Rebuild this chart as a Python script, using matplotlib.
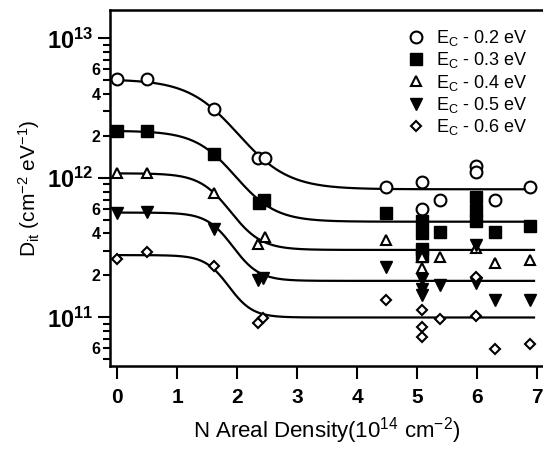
import numpy as np
import matplotlib
matplotlib.use("Agg")
import matplotlib.pyplot as plt
from matplotlib.ticker import FixedLocator, FixedFormatter

plt.rcParams['font.family'] = ['Liberation Sans', 'DejaVu Sans']
plt.rcParams['mathtext.fontset'] = 'custom'
plt.rcParams['mathtext.rm'] = 'Liberation Sans'
plt.rcParams['mathtext.it'] = 'Liberation Sans:italic'
plt.rcParams['mathtext.bf'] = 'Liberation Sans:bold'

# ---- data ----
labels = ['0.2', '0.3', '0.4', '0.5', '0.6']

x_02 = [0.0, 0.49, 1.62, 2.35, 2.46, 4.49, 5.09, 5.09, 5.39, 5.98, 5.98, 6.3, 6.88]
y_02 = [5.1e12, 5.1e12, 3.1e12, 1.4e12, 1.4e12, 8.6e11, 9.4e11, 6.0e11, 6.95e11, 1.21e12, 1.11e12, 6.9e11, 8.6e11]

x_03 = [0.0, 0.49, 1.62, 2.36, 2.44, 4.49, 5.09, 5.09, 5.09, 5.09, 5.39, 5.98, 5.98, 5.98, 6.3, 6.88]
y_03 = [2.18e12, 2.18e12, 1.48e12, 6.6e11, 7.0e11, 5.58e11, 4.9e11, 4.0e11, 3.1e11, 2.75e11, 4.12e11, 7.3e11, 5.9e11, 4.9e11, 4.12e11, 4.53e11]

x_04 = [0.0, 0.49, 1.62, 2.35, 2.46, 4.49, 5.09, 5.09, 5.39, 5.98, 6.3, 6.88]
y_04 = [1.08e12, 1.08e12, 7.76e11, 3.35e11, 3.8e11, 3.6e11, 2.73e11, 2.25e11, 2.73e11, 3.15e11, 2.45e11, 2.58e11]

x_05 = [0.0, 0.49, 1.62, 2.35, 2.43, 4.49, 5.09, 5.09, 5.09, 5.39, 5.98, 5.98, 6.3, 6.88]
y_05 = [5.58e11, 5.7e11, 4.29e11, 1.86e11, 1.93e11, 2.29e11, 1.9e11, 1.6e11, 1.45e11, 1.71e11, 3.3e11, 1.76e11, 1.33e11, 1.33e11]

x_06 = [0.0, 0.49, 1.62, 2.35, 2.43, 4.49, 5.09, 5.09, 5.09, 5.39, 5.98, 5.98, 6.3, 6.88]
y_06 = [2.63e11, 2.93e11, 2.34e11, 9.1e10, 9.87e10, 1.33e11, 1.13e11, 8.6e10, 7.3e10, 9.7e10, 1.96e11, 1.03e11, 5.95e10, 6.5e10]

# Boltzmann fit parameters (in log10 space): plateau, asymptote, centre, width
fit_top = [5.1e12, 2.18e12, 1.08e12, 5.65e11, 2.8e11]
fit_bottom = [8.3e11, 4.86e11, 3.05e11, 1.83e11, 1.0e11]
fit_x0 = [2.02, 1.97, 1.89, 1.93, 1.86]
fit_dx = [0.42, 0.34, 0.26, 0.22, 0.20]

xs = [x_02, x_03, x_04, x_05, x_06]
ys = [y_02, y_03, y_04, y_05, y_06]

styles = [
    dict(marker='o', ms=8.5, mfc='white', mec='black', mew=1.5),
    dict(marker='s', ms=8, mfc='black', mec='black', mew=1.0),
    dict(marker='^', ms=7.5, mfc='white', mec='black', mew=1.5),
    dict(marker='v', ms=8, mfc='black', mec='black', mew=1.0),
    dict(marker='D', ms=5.5, mfc='white', mec='black', mew=1.5),
]

fig = plt.figure(figsize=(5.43, 4.49), dpi=100)
ax = fig.add_axes([110/543, 1-366/449, 1-110/543, (366-10)/449])

xc = np.linspace(0.0, 6.95, 400)
for i in range(5):
    lt, lb = np.log10(fit_top[i]), np.log10(fit_bottom[i])
    ly = lb + (lt - lb) / (1 + np.exp((xc - fit_x0[i]) / fit_dx[i]))
    ax.plot(xc, 10**ly, color='black', lw=1.6, zorder=2)

for i in range(5):
    ax.plot(xs[i], ys[i], linestyle='none', zorder=3,
            label=r'E$_{\rm C}$ - ' + labels[i] + ' eV', **styles[i])

ax.set_yscale('log')
ax.set_xlim(-0.12, 7.1)
ax.set_ylim(4.49e10, 1.6e13)

ax.xaxis.set_major_locator(FixedLocator([0, 1, 2, 3, 4, 5, 6, 7]))
ax.set_xticklabels(['0', '1', '2', '3', '4', '5', '6', '7'], fontsize=15, fontweight='bold')

major = [1e11, 1e12, 1e13]
ax.yaxis.set_major_locator(FixedLocator(major))
ax.yaxis.set_major_formatter(FixedFormatter([r'$\mathbf{10^{11}}$', r'$\mathbf{10^{12}}$', r'$\mathbf{10^{13}}$']))
minors = []
minor_labels = []
for dec in [1e10, 1e11, 1e12]:
    for m in range(2, 10):
        v = m * dec
        if 4.49e10 <= v <= 1.6e13:
            minors.append(v)
            minor_labels.append(str(m) if m in (2, 4, 6) else '')
ax.yaxis.set_minor_locator(FixedLocator(minors))
ax.yaxis.set_minor_formatter(FixedFormatter(minor_labels))
for t in ax.yaxis.get_majorticklabels():
    t.set_fontsize(17)
for t in ax.yaxis.get_minorticklabels():
    t.set_fontsize(11.5)
    t.set_fontweight('bold')

ax.tick_params(axis='both', which='major', direction='out', length=9, width=1.5, pad=3)
ax.tick_params(axis='y', which='minor', direction='out', length=5, width=1.5, pad=2)
ax.tick_params(axis='x', which='major', pad=7)

for s in ['left', 'bottom', 'top']:
    ax.spines[s].set_linewidth(1.8)
ax.spines['right'].set_visible(False)

ax.set_xlabel(r'N Areal Density(10$^{14}$ cm$^{-2}$)', fontsize=16, labelpad=6)
ax.set_ylabel(r'D$_{\rm it}$ (cm$^{-2}$ eV$^{-1}$)', fontsize=15, labelpad=0)
ax.yaxis.set_label_coords(-0.158, 0.5)

leg = ax.legend(loc='upper right', bbox_to_anchor=(0.995, 0.985), frameon=False, fontsize=13,
                handletextpad=0.55, labelspacing=0.13, borderaxespad=0.3, handlelength=1.2)

fig.savefig('out.png', dpi=100)
